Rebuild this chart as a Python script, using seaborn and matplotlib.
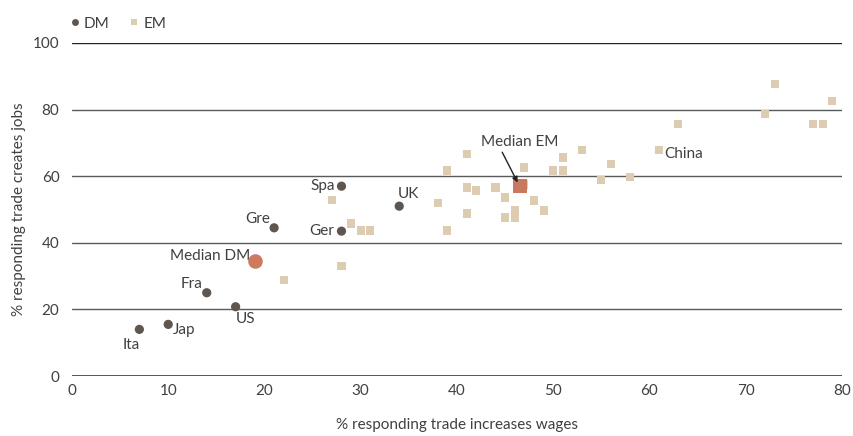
import seaborn as sns
import matplotlib.pyplot as plt
import pandas as pd

# values
dm_names = ['Ita', 'Jap', 'Fra', 'US', 'Gre', 'Spa', 'Ger', 'UK']
dm_wages = [7, 10, 14, 17, 21, 28, 28, 34]
dm_jobs = [14, 15.5, 25, 20.8, 44.5, 57, 43.5, 51]

em_wages = [22, 27, 28, 29, 30, 31, 38, 39, 39, 41, 41, 41, 42, 44, 45, 45,
            46, 46, 47, 47, 48, 49, 50, 51, 51, 53, 55, 56, 58, 61, 63, 72,
            73, 77, 78, 79]
em_jobs = [28.8, 52.8, 33, 45.8, 43.7, 43.7, 51.9, 61.7, 43.7, 66.6, 56.6, 48.8,
           55.7, 56.6, 53.6, 47.6, 49.7, 47.6, 62.6, 57.5, 52.7, 49.7, 61.7, 65.6,
           61.7, 67.8, 58.8, 63.6, 59.7, 67.8, 75.6, 78.6, 87.6, 75.6, 75.6, 82.5]

median_dm = (19, 34.5)
median_em = (46.5, 57)
median_em_label = (46.5, 70.3)
median_em_arrow_start = (44.7, 67.2)

df = pd.DataFrame({
    'wages': dm_wages + em_wages,
    'jobs': dm_jobs + em_jobs,
    'group': ['DM'] * len(dm_wages) + ['EM'] * len(em_wages),
})

sns.set_style('white')
plt.rcParams['font.family'] = ['Lato', 'DejaVu Sans']
txt = '#404040'

fig = plt.figure(figsize=(8.54, 4.36), dpi=100)
ax = fig.add_axes([0.0843, 0.1376, 0.9016, 0.7638])

sns.scatterplot(data=df, x='wages', y='jobs', hue='group', style='group',
                markers={'DM': 'o', 'EM': 's'},
                palette={'DM': '#5f5650', 'EM': '#ddccb2'},
                size='group', sizes={'DM': 44, 'EM': 34},
                linewidth=0, ax=ax, clip_on=False, zorder=3)

ax.scatter([median_dm[0]], [median_dm[1]], s=110, marker='o', color='#cf7a5e',
           linewidth=0, zorder=4, clip_on=False)
ax.scatter([median_em[0]], [median_em[1]], s=95, marker='s', color='#c97a5e',
           linewidth=0, zorder=4, clip_on=False)

ax.set_xlim(0, 80)
ax.set_ylim(0, 100)
ax.set_xticks(range(0, 81, 10))
ax.set_yticks(range(0, 101, 20))
for v in range(20, 101, 20):
    ax.axhline(v, color='#5a5a5a' if v < 100 else '#222222', lw=1.0, zorder=1)
ax.axhline(0, color='#222222', lw=1.8, zorder=2)
for s in ax.spines.values():
    s.set_visible(False)
ax.tick_params(axis='both', length=0, labelsize=11, colors=txt, pad=6)
ax.tick_params(axis='y', pad=9)

ax.set_xlabel('% responding trade increases wages', fontsize=11, color=txt, labelpad=14)
ax.set_ylabel('% responding trade creates jobs', fontsize=11, color=txt, labelpad=5)

# point labels (offsets in points)
offsets = {
    'Ita': (-6, -11, 'center', 'center'),
    'Jap': (3, -4, 'left', 'center'),
    'Fra': (-3, 6, 'right', 'center'),
    'US': (0, -9, 'left', 'center'),
    'Gre': (-3, 6, 'right', 'center'),
    'Spa': (-5, 0, 'right', 'center'),
    'Ger': (-5, 0, 'right', 'center'),
    'UK': (-1, 9, 'left', 'center'),
}
for name, x, y in zip(dm_names, dm_wages, dm_jobs):
    dx, dy, ha, va = offsets[name]
    ax.annotate(name, (x, y), xytext=(dx, dy), textcoords='offset points',
                ha=ha, va=va, fontsize=11, color=txt, zorder=5)

ax.annotate('Median DM', median_dm, xytext=(-3, 4), textcoords='offset points',
            ha='right', va='center', fontsize=11, color=txt)
ax.annotate('China', (em_wages[29], em_jobs[29]), xytext=(4, -3), textcoords='offset points',
            ha='left', va='center', fontsize=11, color=txt)
ax.text(median_em_label[0], median_em_label[1], 'Median EM', ha='center', va='center',
        fontsize=11, color=txt)
ax.annotate('', xy=median_em, xytext=median_em_arrow_start, zorder=6,
            arrowprops=dict(arrowstyle='-|>', color='#222222', lw=1.0,
                            mutation_scale=8, shrinkA=0, shrinkB=3))

handles, labels = ax.get_legend_handles_labels()
leg = ax.legend(handles, labels, loc='lower left', bbox_to_anchor=(-0.02, 1.0),
                ncol=2, frameon=False, fontsize=11, handletextpad=0.2,
                handlelength=0.8, columnspacing=1.2, markerscale=0.75,
                borderaxespad=0.4)
for t in leg.get_texts():
    t.set_color(txt)

fig.savefig('out.png', dpi=100)
